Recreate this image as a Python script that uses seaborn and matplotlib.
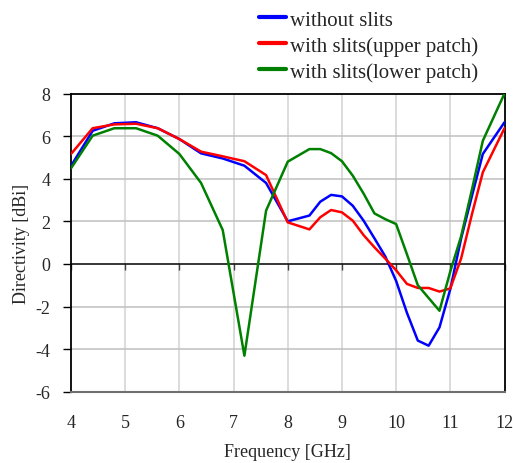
import matplotlib
matplotlib.use("Agg")
import matplotlib.pyplot as plt
import seaborn as sns
import pandas as pd

freq = [4.0, 4.4, 4.8, 5.2, 5.6, 6.0, 6.4, 6.8, 7.2, 7.6, 8.0, 8.4, 8.6, 8.8, 9.0,
        9.2, 9.4, 9.6, 9.8, 10.0, 10.2, 10.4, 10.6, 10.8, 11.0, 11.2, 11.4, 11.6, 12.0]
without_slits = [4.6, 6.25, 6.6, 6.65, 6.37, 5.86, 5.19, 4.95, 4.61, 3.8, 2.0, 2.27, 2.92, 3.24, 3.17,
                 2.73, 2.03, 1.2, 0.35, -0.8, -2.3, -3.6, -3.84, -2.98, -1.18, 1.2, 3.2, 5.16, 6.65]
upper_patch = [5.16, 6.37, 6.55, 6.58, 6.37, 5.86, 5.27, 5.05, 4.82, 4.17, 1.95, 1.62, 2.19, 2.53, 2.42,
               2.03, 1.35, 0.78, 0.25, -0.3, -0.94, -1.13, -1.13, -1.3, -1.15, 0.26, 2.34, 4.3, 6.37]
lower_patch = [4.49, 6.02, 6.37, 6.37, 6.02, 5.16, 3.8, 1.59, -4.31, 2.5, 4.8, 5.39, 5.39, 5.2, 4.82,
               4.14, 3.3, 2.37, 2.1, 1.87, 0.45, -1.0, -1.6, -2.2, -0.35, 1.3, 3.5, 5.78, 8.0]
series_names = ["without slits", "with slits(upper patch)", "with slits(lower patch)"]
colors = ["#0000ff", "#ff0000", "#008000"]
xticks = [4, 5, 6, 7, 8, 9, 10, 11, 12]
yticks = [-6, -4, -2, 0, 2, 4, 6, 8]

df = pd.concat([
    pd.DataFrame({"freq": freq, "dir": vals, "series": name})
    for name, vals in zip(series_names, [without_slits, upper_patch, lower_patch])
])

sns.set_style("white")
plt.rcParams["font.family"] = ["Liberation Serif", "DejaVu Serif"]
plt.rcParams["axes.unicode_minus"] = False

fig = plt.figure(figsize=(5.13, 4.64), dpi=100)
ax = fig.add_axes([71/513, 1-392.7/464, (504.5-71)/513, (392.7-94.5)/464])

# grid
for xv in xticks[1:-1]:
    ax.axvline(xv, color="#d9d9d9", lw=1.3, zorder=0)
for yv in yticks[1:-1]:
    if yv != 0:
        ax.axhline(yv, color="#c0c0c0", lw=1.1, zorder=0)
ax.axhline(0, color="black", lw=1.1, zorder=1)

sns.lineplot(data=df, x="freq", y="dir", hue="series", palette=colors,
             hue_order=series_names, ax=ax, lw=1.8, legend=False, sort=False, zorder=3)

ax.set_xlim(4, 12)
ax.set_ylim(-6, 8)
ax.set_xticks(xticks)
ax.set_yticks(yticks)
ax.tick_params(axis="x", length=0, pad=16, labelsize=13)
ax.tick_params(axis="y", direction="out", length=6, width=1, color="black", pad=9, labelsize=13, left=True)
ax.set_xlabel("Frequency [GHz]", fontsize=13, labelpad=9)
ax.set_ylabel("Directivity [dBi]", fontsize=13, labelpad=4)
for s in ["left", "top", "right"]:
    ax.spines[s].set_color("black")
    ax.spines[s].set_linewidth(1.3)
ax.spines["bottom"].set_color("#707070")
ax.spines["bottom"].set_linewidth(1.5)

# tick marks along zero line
sec = ax.secondary_xaxis(6/14)
sec.set_xticks(xticks)
sec.tick_params(direction="out", length=4, width=1, labelbottom=False, color="#404040")
sec.spines["bottom"].set_visible(False)

from matplotlib.lines import Line2D
handles = [Line2D([], [], color=c, lw=3) for c in colors]
fig.legend(handles, series_names, loc="upper left", bbox_to_anchor=(255/513, 1-7/464),
           frameon=False, fontsize=15, handlelength=1.3, handletextpad=0.2,
           labelspacing=0.3, borderaxespad=0, borderpad=0.2)

fig.savefig("out.png", dpi=100)
